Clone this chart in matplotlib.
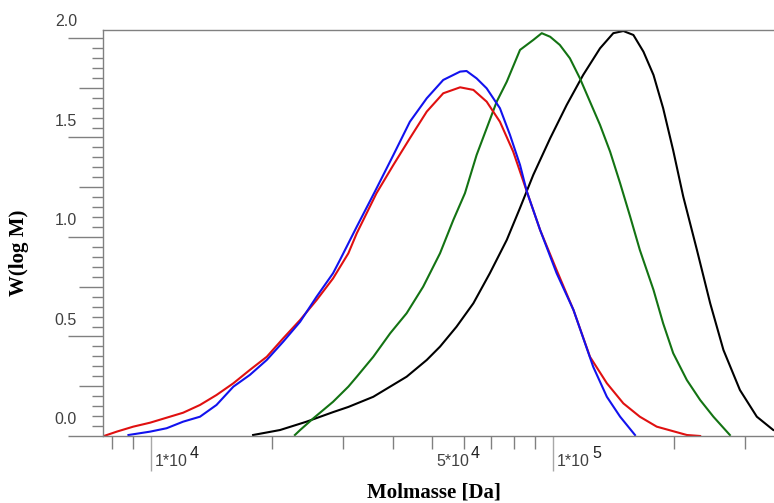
import matplotlib
matplotlib.use("Agg")
import matplotlib.pyplot as plt
import numpy as np

# log10 of molar mass [Da] and W(log M)
red_logm = [3.883, 3.915, 3.956, 3.998, 4.039, 4.080, 4.122, 4.163, 4.205, 4.246,
            4.288, 4.329, 4.371, 4.412, 4.453, 4.491, 4.512, 4.561, 4.603, 4.644,
            4.686, 4.727, 4.769, 4.802, 4.835, 4.868, 4.901, 4.935, 4.968, 5.009,
            5.051, 5.092, 5.134, 5.175, 5.216, 5.258, 5.333, 5.366]
red_w = [0.0, 0.022, 0.047, 0.067, 0.092, 0.117, 0.156, 0.206, 0.265, 0.332,
         0.398, 0.491, 0.583, 0.683, 0.792, 0.918, 1.019, 1.220, 1.362, 1.496,
         1.630, 1.722, 1.752, 1.739, 1.680, 1.579, 1.429, 1.228, 1.035, 0.834,
         0.633, 0.398, 0.265, 0.164, 0.097, 0.047, 0.005, 0.0]

blue_logm = [3.944, 3.998, 4.039, 4.080, 4.122, 4.163, 4.205, 4.246, 4.288, 4.329,
             4.371, 4.412, 4.453, 4.470, 4.512, 4.557, 4.603, 4.644, 4.686, 4.727,
             4.769, 4.785, 4.810, 4.835, 4.868, 4.893, 4.918, 4.935, 4.968, 5.009,
             5.051, 5.100, 5.134, 5.167, 5.204]
blue_w = [0.005, 0.022, 0.039, 0.072, 0.097, 0.156, 0.248, 0.307, 0.382, 0.474,
          0.574, 0.700, 0.818, 0.884, 1.052, 1.228, 1.412, 1.579, 1.697, 1.789,
          1.831, 1.834, 1.797, 1.747, 1.647, 1.513, 1.362, 1.228, 1.035, 0.818,
          0.633, 0.348, 0.197, 0.097, 0.005]

green_logm = [4.358, 4.371, 4.404, 4.453, 4.491, 4.512, 4.553, 4.595, 4.636, 4.677,
              4.719, 4.752, 4.781, 4.810, 4.835, 4.860, 4.885, 4.918, 4.951, 4.972,
              4.993, 5.017, 5.042, 5.067, 5.092, 5.117, 5.142, 5.167, 5.192, 5.216,
              5.250, 5.274, 5.299, 5.333, 5.366, 5.399, 5.440]
green_w = [0.005, 0.030, 0.089, 0.172, 0.248, 0.298, 0.398, 0.516, 0.617, 0.750,
           0.918, 1.085, 1.220, 1.412, 1.546, 1.680, 1.780, 1.940, 1.990, 2.024,
           2.006, 1.965, 1.898, 1.797, 1.680, 1.563, 1.429, 1.270, 1.102, 0.935,
           0.734, 0.566, 0.416, 0.281, 0.181, 0.097, 0.005]

black_logm = [4.254, 4.321, 4.387, 4.453, 4.491, 4.553, 4.636, 4.686, 4.719, 4.760,
              4.802, 4.843, 4.885, 4.918, 4.951, 4.993, 5.034, 5.075, 5.117, 5.150,
              5.175, 5.200, 5.225, 5.250, 5.274, 5.299, 5.324, 5.358, 5.391, 5.424,
              5.465, 5.507, 5.548, 5.589]
black_w = [0.005, 0.030, 0.072, 0.120, 0.146, 0.197, 0.298, 0.382, 0.449, 0.549,
           0.667, 0.818, 0.985, 1.146, 1.312, 1.496, 1.663, 1.814, 1.948, 2.024,
           2.035, 2.015, 1.931, 1.814, 1.647, 1.435, 1.203, 0.935, 0.667, 0.432,
           0.231, 0.097, 0.030, 0.010]

y_major = [0.0, 0.5, 1.0, 1.5, 2.0]
x_major = [1e4, 1e5]
x_minor = [8e3, 9e3, 2e4, 3e4, 4e4, 5e4, 6e4, 7e4, 8e4, 9e4, 2e5, 3e5]
x_labels = [(1e4, "1*10", "4"), (5e4, "5*10", "4"), (1e5, "1*10", "5")]

fig = plt.figure(figsize=(7.74, 5.03), dpi=100)
ax = fig.add_axes([103 / 774, (503 - 436) / 503, 1 - 103 / 774, (436 - 30) / 503])

series = [(black_logm, black_w, "black"),
          (green_logm, green_w, "#137313"),
          (red_logm, red_w, "#e01010"),
          (blue_logm, blue_w, "#1212ee")]
for logm, w, c in series:
    ax.plot(10 ** np.array(logm), w, color=c, lw=1.5)

ax.set_xscale("log")
ax.set_xlim(7598, 354600)
ax.set_ylim(0, 2.04)

gray = "#808080"
for s in ["left", "top", "bottom"]:
    ax.spines[s].set_color(gray)
    ax.spines[s].set_linewidth(1.0)
ax.spines["right"].set_visible(False)

ax.set_xticks(x_major)
ax.set_xticks(x_minor, minor=True)
ax.set_xticklabels([])
ax.set_xticklabels([], minor=True)
ax.tick_params(axis="x", which="major", length=25, color="#a8a8a8", width=1)
ax.tick_params(axis="x", which="minor", length=9, color=gray, width=1)

ax.set_yticks(y_major)
ax.set_yticklabels([])
y_minor = [round(v * 0.05, 2) for v in range(41) if v % 10 != 0]
ax.set_yticks(y_minor, minor=True)
ax.tick_params(axis="y", which="major", length=25, color=gray, width=1)
ax.tick_params(axis="y", which="minor", length=8, color=gray, width=1)
for v, t in zip(y_minor, ax.yaxis.get_minor_ticks()):
    if abs(v / 0.25 - round(v / 0.25)) < 1e-6:
        t.tick1line.set_markersize(17)

lab_color = "#404040"
for v in y_major:
    ax.annotate(f"{v:.1f}", xy=(0, v), xycoords=("axes fraction", "data"),
                xytext=(-26, 16), textcoords="offset pixels", ha="right", va="center",
                fontsize=11.5, color=lab_color, family="Liberation Sans",
                annotation_clip=False)

for v, base, sup in x_labels:
    ax.annotate(base, xy=(v, 0), xycoords=("data", "axes fraction"),
                xytext=(4, -25), textcoords="offset pixels", ha="left", va="center",
                fontsize=11.5, color=lab_color, family="Liberation Sans",
                annotation_clip=False)
    ax.annotate(sup, xy=(v, 0), xycoords=("data", "axes fraction"),
                xytext=(39, -18), textcoords="offset pixels", ha="left", va="center",
                fontsize=11.5, color="#202020", family="Liberation Sans",
                annotation_clip=False)

fig.text(434 / 774, 1 - 492 / 503, "Molmasse [Da]", ha="center", va="center",
         fontsize=15, fontweight="bold", family="Liberation Serif")
fig.text(19 / 774, 1 - 253 / 503, "W(log M)", ha="center", va="center", rotation=90,
         fontsize=15, fontweight="bold", family="Liberation Serif")

fig.savefig("out.png", dpi=100)
